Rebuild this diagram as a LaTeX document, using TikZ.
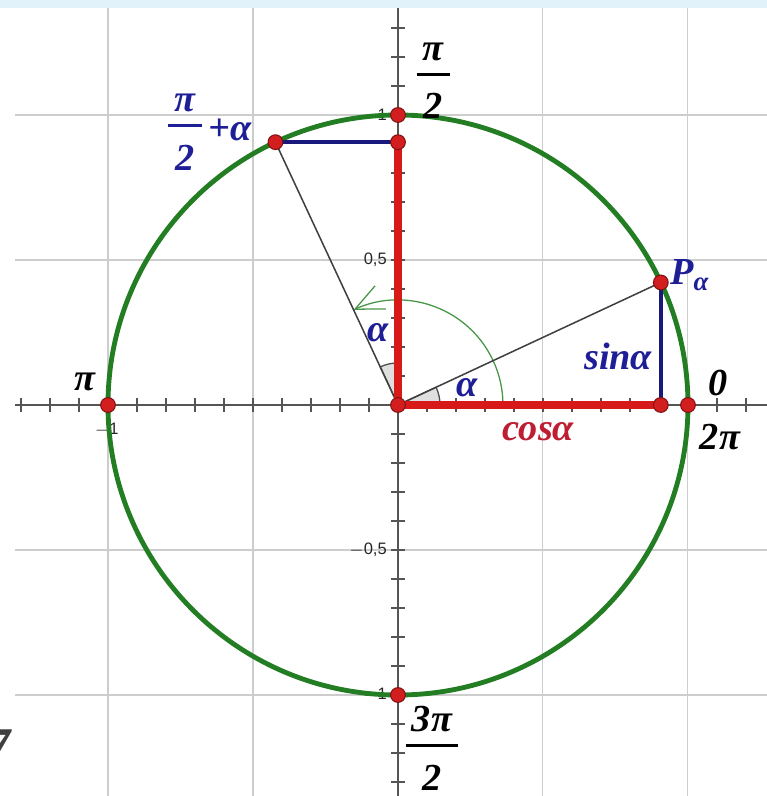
\documentclass[tikz,border=0pt]{standalone}
\usepackage{fontspec}
\setmainfont{Liberation Serif}
\newfontfamily\ticksans{Liberation Sans}
\usetikzlibrary{arrows.meta,positioning,calc}

\definecolor{stripblue}{RGB}{226,242,250}
\definecolor{gridgray}{RGB}{205,205,205}
\definecolor{axisgray}{RGB}{85,85,85}
\definecolor{circgreen}{RGB}{35,125,35}
\definecolor{arcgreen}{RGB}{70,150,70}
\definecolor{segred}{RGB}{215,25,25}
\definecolor{dotred}{RGB}{210,30,30}
\definecolor{cosred}{RGB}{190,30,50}
\definecolor{navy}{RGB}{25,25,125}
\definecolor{lblblue}{RGB}{30,30,150}

\newcommand{\stackfrac}[2]{{\setlength{\arrayrulewidth}{1pt}%
  \begin{tabular}{@{\hspace{2.5pt}}c@{\hspace{2.5pt}}}#1\\\hline\rule{0pt}{17pt}#2\end{tabular}}}

\tikzset{
  gridline/.style ={draw=gridgray, line width=0.4pt},
  axisline/.style ={draw=axisgray, line width=0.5pt},
  unitcircle/.style={draw=circgreen, line width=1.9pt},
  turnarc/.style  ={draw=arcgreen, line width=0.5pt,
                    -{Straight Barb[length=11pt, width=10pt]}},
  wedge/.style    ={fill=gray!25, draw=black!70, line width=0.5pt},
  ray/.style      ={draw=black!75, line width=0.6pt},
  redseg/.style   ={draw=segred, line width=2.8pt},
  blueseg/.style  ={draw=navy, line width=1.4pt},
  dot/.style      ={circle, fill=dotred, draw=dotred!60!black,
                    line width=0.4pt, inner sep=0pt, minimum size=5.8pt},
  biglbl/.style   ={font=\fontsize{15}{17}\selectfont\bfseries\itshape,
                    inner sep=0pt},
  bluelbl/.style  ={biglbl, text=lblblue},
  ticklbl/.style  ={font=\fontsize{6.5}{7}\selectfont\ticksans,
                    inner sep=1pt, text=black!85},
}

\begin{document}
\begin{tikzpicture}[x=4cm, y=4cm]
  \useasboundingbox (-1.3724,-1.3483) rectangle (1.2724,1.3966);
  \fill[stripblue] (-1.3724,1.369) rectangle (1.2724,1.3966);

  % grid and axes
  \foreach \g in {-1,-0.5,0.5,1} {
    \draw[gridline] (\g,-1.3483) -- (\g,1.369);
    \draw[gridline] (-1.32,\g) -- (1.2724,\g);
  }
  \draw[axisline] (-1.32,0) -- (1.2724,0);
  \draw[axisline] (0,-1.3483) -- (0,1.369);
  \foreach \i in {-13,...,12}
    \draw[axisline] (\i/10,-0.024) -- (\i/10,0.024);
  \foreach \i in {-13,...,13}
    \draw[axisline] (-0.024,\i/10) -- (0.024,\i/10);

  \node[ticklbl, anchor=east] (ty1)  at (-0.028,1)    {1};
  \node[ticklbl, anchor=east] (ty05) at (-0.028,0.5)  {0,5};
  \node[ticklbl, anchor=east] (tym05) at (-0.028,-0.5) {$-$0,5};
  \node[ticklbl, anchor=east] (tym1) at (-0.028,-1)   {$-$1};
  \node[ticklbl] (txm1) at (-1.005,-0.086) {$-$1};

  % points
  \def\al{25}
  \coordinate (O) at (0,0);
  \coordinate (P) at (\al:1);
  \coordinate (Q) at (90+\al:1);
  \coordinate (C) at (P |- O);
  \coordinate (S) at (O |- Q);
  \coordinate (E) at (1,0);
  \coordinate (N) at (0,1);
  \coordinate (W) at (-1,0);
  \coordinate (B) at (0,-1);

  \draw[unitcircle] (O) circle[radius=1];

  % angles
  \draw[wedge] (O) -- (0.145,0) arc[start angle=0, end angle=\al, radius=0.145] -- cycle;
  \draw[wedge] (O) -- (0,0.145) arc[start angle=90, end angle=90+\al, radius=0.145] -- cycle;
  \draw[turnarc] (0.362,0) arc[start angle=0, end angle=90+\al, radius=0.362];

  \draw[ray] (O) -- (P);
  \draw[ray] (O) -- (Q);
  \draw[blueseg] (P) -- (C);
  \draw[blueseg] (Q) -- (S);
  \draw[redseg] (O) -- (C);
  \draw[redseg] (O) -- (S);

  \foreach \c in {O,P,Q,C,S,E,N,W,B}
    \node[dot] at (\c) {};

  % labels
  \node[biglbl] (lhalfpi) at (0.122,1.118) {\stackfrac{π}{2}};
  \node[bluelbl] (lshift) at (-0.734,0.941) {\stackfrac{π}{2}};
  \node[bluelbl] (lplus) at (-0.579,0.948) {+α};
  \node[biglbl] (lpi) at (-1.079,0.079) {π};
  \node[biglbl] (lzero) at (1.103,0.076) {0};
  \node[biglbl] (ltwopi) at (1.110,-0.110) {2π};
  \node[biglbl] (lthreehalf) at (0.117,-1.197) {\stackfrac{3π}{2}};
  \node[bluelbl] (lP) at (1.007,0.448) {P\textsubscript{α}};
  \node[bluelbl] (lsin) at (0.759,0.166) {sinα};
  \node[biglbl, text=cosred] (lcos) at (0.483,-0.093) {cosα};
  \node[bluelbl] (la1) at (0.238,0.059) {α};
  \node[bluelbl] (la2) at (-0.069,0.248) {α};
  \node[biglbl, text=black!75, font=\fontsize{22}{24}\selectfont\bfseries\itshape]
    (lseven) at (-1.385,-1.183) {7};
\end{tikzpicture}
\end{document}
